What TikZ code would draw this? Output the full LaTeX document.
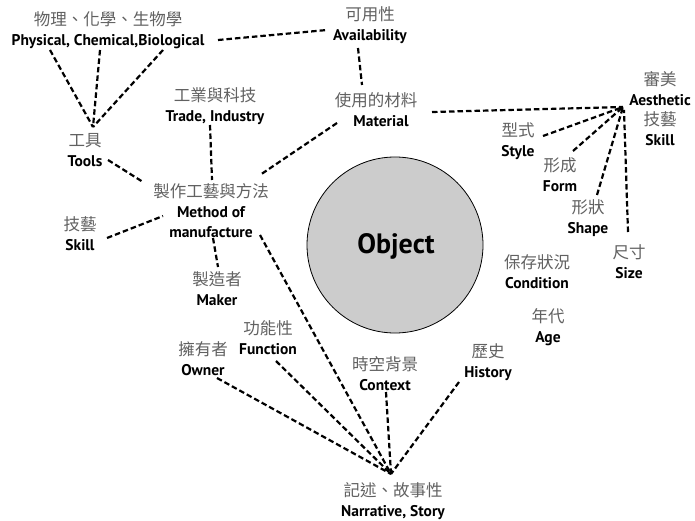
\documentclass[tikz,border=0pt]{standalone}
\usepackage{fontspec}
\usetikzlibrary{calc}
\setmainfont{PT Sans}
\newfontfamily\cjkf{Noto Sans CJK TC}
\newfontfamily\enf{PT Sans}
\definecolor{zhgray}{gray}{0.38}
\definecolor{objfill}{gray}{0.80}
\newcommand\ZH[1]{{\color{zhgray}\fontsize{16.5}{20}\selectfont\cjkf #1}}
\newcommand\EN[1]{{\color{black}\fontsize{15.5}{19}\selectfont\enf\bfseries #1}}
\begin{document}
\begin{tikzpicture}[x=1pt,y=-1pt,
  lab/.style={align=center,inner sep=0pt,font=\fontsize{15}{20}\selectfont},
  dl/.style={draw=black,line width=2.2pt,dash pattern=on 5.5pt off 3pt}]
\useasboundingbox (0,0) rectangle (695,521);
\fill[white] (0,0) rectangle (695,521);
% object
\node[circle,draw=black,line width=0.8pt,fill=objfill,minimum size=176pt,inner sep=0pt] (obj) at (395,245) {};
\node[font=\fontsize{28}{30}\selectfont\enf\bfseries] (objt) at (396,246) {Object};
% nodes
\node[lab] (phys) at (108,30) {\ZH{物理、化學、生物學}\\\EN{Physical, Chemical,Biological}};
\node[lab] (avail) at (370,25) {\ZH{可用性}\\\EN{Availability}};
\node[lab] (trade) at (215,106) {\ZH{工業與科技}\\\EN{Trade, Industry}};
\node[lab] (mat) at (376,110) {\ZH{使用的材料}\\\EN{\hspace*{10pt}Material}};
\node[lab] (aes) at (660,109) {\ZH{審美}\\\EN{Aesthetic}\\\ZH{技藝}\\\EN{Skill}};
\node[lab] (style) at (518,141) {\ZH{型式}\\\EN{Style}};
\node[lab] (form) at (560,175) {\ZH{形成}\\\EN{Form}};
\node[lab] (shape) at (588,218) {\ZH{形狀}\\\EN{Shape}};
\node[lab] (size) at (629,262) {\ZH{尺寸}\\\EN{Size}};
\node[lab] (cond) at (537,272) {\ZH{保存狀況}\\\EN{Condition}};
\node[lab] (age) at (548,327) {\ZH{年代}\\\EN{Age}};
\node[lab] (tools) at (85,150) {\ZH{工具}\\\EN{Tools}};
\node[lab] (meth) at (211,211) {\ZH{製作工藝與方法}\\\EN{Method of}\\\EN{manufacture}};
\node[lab] (skill) at (80,234) {\ZH{技藝}\\\EN{Skill}};
\node[lab] (maker) at (217,289) {\ZH{製造者}\\\EN{Maker}};
\node[lab] (func) at (268,338) {\ZH{功能性}\\\EN{Function}};
\node[lab] (owner) at (203,359) {\ZH{擁有者}\\\EN{Owner}};
\node[lab] (ctx) at (385,374) {\ZH{時空背景}\\\EN{Context}};
\node[lab] (hist) at (488,362) {\ZH{歷史}\\\EN{History}};
\node[lab] (narr) at (393,501) {\ZH{記述、故事性}\\\EN{Narrative, Story}};
% convergence points
\coordinate (toolsP) at (93,127);
\coordinate (aesP) at (623,107);
\coordinate (narrP) at (391,474);
% connectors
\draw[dl] ($(phys.center)+(110,10)$) -- ($(avail.center)+(-43,5)$);
\draw[dl] ($(avail.center)+(-12,23)$) -- ($(mat.center)+(-14,-25)$);
\draw[dl] ($(phys.center)+(-58,20)$) -- (toolsP);
\draw[dl] ($(phys.center)+(-8,20)$) -- (toolsP);
\draw[dl] ($(phys.center)+(55,20)$) -- (toolsP);
\draw[dl] ($(tools.center)+(23,10)$) -- ($(meth.center)+(-68,-29)$);
\draw[dl] ($(trade.center)+(-5,19)$) -- ($(meth.center)+(1,-31)$);
\draw[dl] ($(mat.center)+(-39,13)$) -- ($(meth.center)+(49,-36)$);
\draw[dl] ($(mat.center)+(56,2)$) -- (aesP);
\draw[dl] ($(style.center)+(25,-5)$) -- (aesP);
\draw[dl] ($(form.center)+(13,-24)$) -- (aesP);
\draw[dl] ($(shape.center)+(9,-23)$) -- (aesP);
\draw[dl] ($(size.center)+(-1,-30)$) -- ($(aesP)+(1,3)$);
\draw[dl] ($(skill.center)+(27,4)$) -- ($(meth.center)+(-48,5)$);
\draw[dl] ($(meth.center)+(2,27)$) -- ($(maker.center)+(1,-22)$);
\draw[dl] ($(meth.center)+(49,24)$) -- (narrP);
\draw[dl] ($(owner.center)+(14,19)$) -- (narrP);
\draw[dl] ($(func.center)+(8,23)$) -- (narrP);
\draw[dl] ($(ctx.center)+(1,18)$) -- (narrP);
\draw[dl] ($(hist.center)+(-29,20)$) -- (narrP);
\end{tikzpicture}
\end{document}
